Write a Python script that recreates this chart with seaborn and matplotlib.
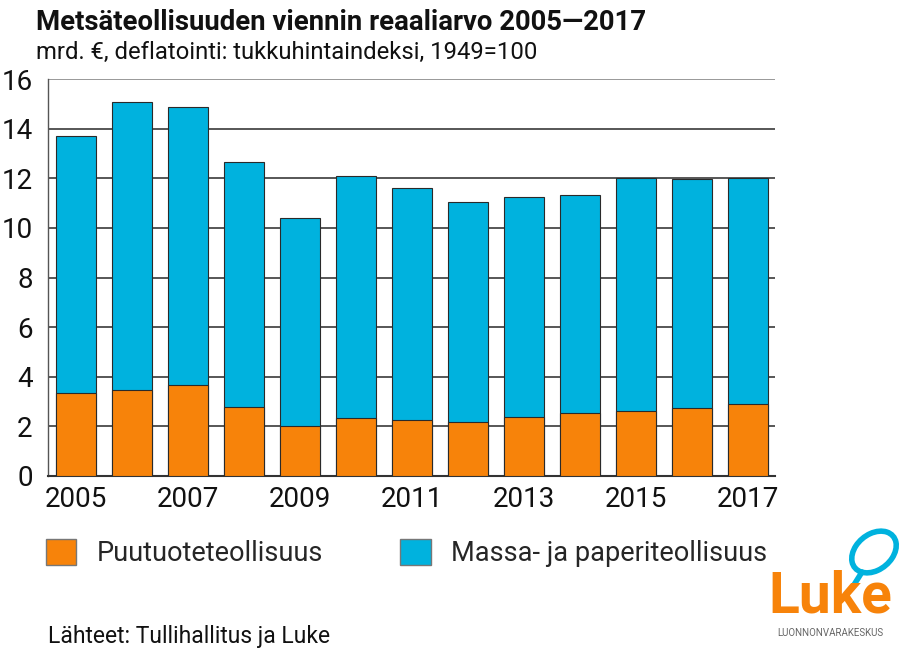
import numpy as np
import pandas as pd
import seaborn as sns
import matplotlib.pyplot as plt
from matplotlib.patches import Patch, Ellipse

years = [2005, 2006, 2007, 2008, 2009, 2010, 2011, 2012, 2013, 2014, 2015, 2016, 2017]
puutuote = [3.36, 3.46, 3.67, 2.77, 2.02, 2.35, 2.26, 2.19, 2.39, 2.54, 2.61, 2.76, 2.92]
massa_paperi = [10.34, 11.60, 11.19, 9.88, 8.36, 9.74, 9.33, 8.84, 8.84, 8.77, 9.41, 9.21, 9.08]
year_labels = [str(y) if y % 2 == 1 else "" for y in years]

ORANGE = "#F7830A"
BLUE = "#00B2DE"

sns.set_style("white")
plt.rcParams['font.family'] = ['Roboto', 'DejaVu Sans']

df = pd.DataFrame({"vuosi": [str(y) for y in years],
                   "puu": puutuote,
                   "massa": massa_paperi})
df["yht"] = df["puu"] + df["massa"]

fig = plt.figure(figsize=(9.04, 6.52), dpi=100)
ax = fig.add_axes([48 / 904, 1 - 476 / 652, (775 - 48) / 904, (476 - 79) / 652])

sns.barplot(data=df, x="vuosi", y="yht", color=BLUE, width=0.72, saturation=1,
            edgecolor="#2a2a2a", linewidth=0.8, ax=ax, zorder=3)
sns.barplot(data=df, x="vuosi", y="puu", color=ORANGE, width=0.72, saturation=1,
            edgecolor="#2a2a2a", linewidth=0.8, ax=ax, zorder=3)

ax.set_ylim(0, 16)
ax.set_xlim(-0.5, 12.48)
ax.set_yticks(range(0, 17, 2))
ax.set_xticks(range(len(years)))
ax.set_xticklabels(year_labels)
ax.grid(axis="y", color="#3a3a3a", linewidth=1.2, zorder=0)
ax.get_ygridlines()[-1].set_color("#888888")
ax.set_axisbelow(True)
ax.set_xlabel("")
ax.set_ylabel("")
for s in ["top", "right"]:
    ax.spines[s].set_visible(False)
ax.spines["left"].set_color("#555555")
ax.spines["left"].set_linewidth(1.0)
ax.spines["bottom"].set_color("#333333")
ax.spines["bottom"].set_linewidth(1.5)
ax.tick_params(axis="both", length=0, labelsize=20, colors="#111111")
ax.tick_params(axis="y", pad=11)
ax.tick_params(axis="x", pad=7)

fig.text(36 / 904, 1 - 22 / 652, "Metsäteollisuuden viennin reaaliarvo 2005—2017",
         fontsize=19.8, fontweight="bold", va="center", ha="left", color="#111111")
fig.text(36 / 904, 1 - 52 / 652, "mrd. €, deflatointi: tukkuhintaindeksi, 1949=100",
         fontsize=17.2, va="center", ha="left", color="#111111")

handles = [Patch(facecolor=ORANGE, edgecolor="#777777", label="Puutuoteteollisuus"),
           Patch(facecolor=BLUE, edgecolor="#777777", label="Massa- ja paperiteollisuus")]
fig.legend(handles=handles, loc="center left", bbox_to_anchor=(46 / 904, 1 - 553 / 652),
           ncol=2, frameon=False, fontsize=19.5, handlelength=1.12, handleheight=1.12,
           handletextpad=0.75, columnspacing=2.85, borderpad=0, borderaxespad=0)

fig.text(48 / 904, 1 - 636 / 652, "Lähteet: Tullihallitus ja Luke",
         fontsize=16.5, va="center", ha="left", color="#111111")

# Luke-logo
fig.text(830 / 904, 1 - 597 / 652, "Luke", fontsize=41, fontweight="bold",
         color=ORANGE, ha="center", va="center")
fig.text(830 / 904, 1 - 633 / 652, "LUONNONVARAKESKUS", fontsize=7,
         color="#666666", ha="center", va="center")
leaf = Ellipse((874 / 904, 1 - 552 / 652), 40 / 904, 44 / 652, angle=-25,
               transform=fig.transFigure, fill=False, edgecolor=BLUE, linewidth=4)
fig.add_artist(leaf)
fig.add_artist(plt.Line2D([852 / 904, 862 / 904], [1 - 588 / 652, 1 - 572 / 652],
                          transform=fig.transFigure, color=BLUE, linewidth=4))

fig.savefig("out.png", dpi=100)
